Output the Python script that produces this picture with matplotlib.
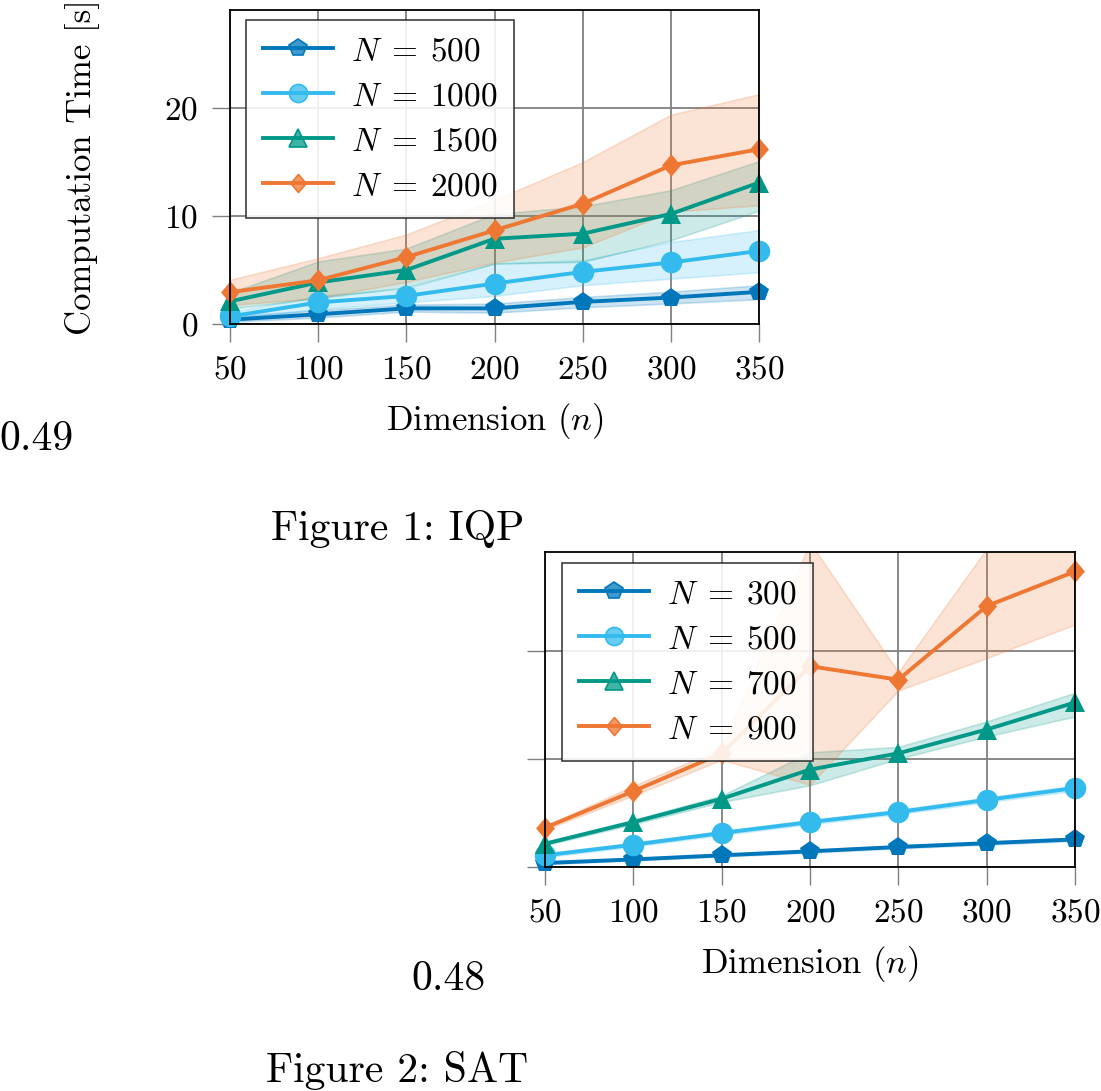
import matplotlib
matplotlib.use("Agg")
import matplotlib.pyplot as plt
from matplotlib.colors import to_rgba

plt.rcParams['font.family'] = ['cmr10', 'DejaVu Serif']
plt.rcParams['mathtext.fontset'] = 'cm'
plt.rcParams['axes.formatter.use_mathtext'] = True

# --- данные: IQP ---
dims = [50, 100, 150, 200, 250, 300, 350]
iqp_labels = [r'$N\;=\:500$', r'$N\;=\:1000$', r'$N\;=\:1500$', r'$N\;=\:2000$']
iqp_mean = [
    [0.4, 0.9, 1.45, 1.45, 2.05, 2.45, 2.98],
    [0.7, 2.0, 2.6, 3.75, 4.83, 5.7, 6.77],
    [2.1, 3.85, 5.0, 7.9, 8.37, 10.2, 13.1],
    [2.95, 4.05, 6.2, 8.68, 11.14, 14.7, 16.2],
]
iqp_low = [
    [0.2, 0.6, 1.15, 1.05, 1.55, 1.9, 2.3],
    [0.4, 1.4, 2.0, 2.6, 3.6, 4.2, 4.8],
    [1.4, 2.4, 3.4, 5.6, 5.75, 7.75, 10.5],
    [1.75, 2.4, 3.9, 5.7, 7.1, 10.4, 11.0],
]
iqp_high = [
    [0.7, 1.3, 1.8, 1.9, 2.5, 3.0, 3.6],
    [1.1, 2.6, 3.3, 5.6, 5.9, 7.6, 8.7],
    [2.9, 5.8, 7.0, 10.2, 10.9, 12.4, 15.1],
    [4.1, 6.1, 8.3, 11.5, 15.0, 19.4, 21.3],
]

# --- данные: SAT ---
sat_labels = [r'$N\;=\:300$', r'$N\;=\:500$', r'$N\;=\:700$', r'$N\;=\:900$']
sat_mean = [
    [0.37, 0.7, 1.08, 1.45, 1.85, 2.2, 2.55],
    [1.08, 2.06, 3.14, 4.15, 5.08, 6.2, 7.3],
    [2.15, 4.15, 6.3, 9.0, 10.5, 12.7, 15.2],
    [3.63, 7.0, 10.5, 18.55, 17.3, 24.1, 27.3],
]
sat_low = [
    [0.27, 0.6, 0.97, 1.33, 1.72, 2.07, 2.4],
    [0.9, 1.88, 2.95, 3.95, 4.88, 5.98, 7.05],
    [2.0, 3.95, 6.0, 7.55, 10.0, 12.05, 13.9],
    [3.45, 6.6, 9.9, 7.6, 16.3, 19.3, 22.4],
]
sat_high = [
    [0.47, 0.8, 1.2, 1.57, 1.98, 2.33, 2.7],
    [1.25, 2.24, 3.33, 4.35, 5.3, 6.42, 7.55],
    [2.3, 4.35, 6.6, 10.6, 11.1, 13.45, 16.1],
    [3.8, 7.5, 11.0, 30.0, 18.0, 29.4, 33.0],
]

colors = ['#0077BB', '#33BBEE', '#009988', '#EE7733']
diamond = [(0, 1), (0.85, 0), (0, -1), (-0.85, 0), (0, 1)]
markers = ['p', 'o', '^', diamond]
msizes = [15, 15.5, 15, 16]

FS = 24
LFS = 25
GRID = '#808080'

fig = plt.figure(figsize=(11.01, 10.91), dpi=100)
ax1 = fig.add_axes([230 / 1101, 1 - 324 / 1091, 529 / 1101, 314 / 1091])
ax2 = fig.add_axes([545 / 1101, 1 - 867 / 1091, 530 / 1101, 315 / 1091])


def draw(ax, mean, low, high, labels, legend_anchor):
    for i in range(4):
        ax.fill_between(dims, low[i], high[i], color=colors[i], alpha=0.2,
                        linewidth=1.2, zorder=1)
    for i in range(4):
        ax.plot(dims, mean[i], color=colors[i], lw=2.8, marker=markers[i],
                ms=msizes[i], mew=0, label=labels[i], zorder=3, clip_on=False)
    ax.set_xlim(50, 350)
    ax.set_ylim(0, 29.1)
    ax.set_xticks(dims)
    ax.set_yticks([0, 10, 20])
    ax.grid(True, color=GRID, lw=1.3, zorder=0)
    ax.set_axisbelow(True)
    ax.tick_params(direction='out', length=13, width=1.0, color=GRID,
                   labelsize=FS, pad=10)
    for s in ax.spines.values():
        s.set_linewidth(1.3)
        s.set_color('black')
        s.set_zorder(4)
    ax.set_xlabel('Dimension ($n$)', fontsize=LFS)
    ax.xaxis.set_label_coords(0.5, -0.245)
    leg = ax.legend(loc='upper left', bbox_to_anchor=legend_anchor,
                    borderaxespad=0, fontsize=FS, handlelength=2.1,
                    handletextpad=0.55, labelspacing=0.47, borderpad=0.5,
                    fancybox=False, framealpha=0.88, edgecolor='#222222')
    leg.get_frame().set_linewidth(1.2)
    leg.set_zorder(5)
    for h, c in zip(leg.legend_handles, colors):
        h.set_markerfacecolor(to_rgba(c, 0.75))
        h.set_markeredgecolor(c)
        h.set_markeredgewidth(1.2)
        h.set_markersize(13)


draw(ax1, iqp_mean, iqp_low, iqp_high, iqp_labels, (0.031, 0.968))
ax1.set_ylabel('Computation Time [s]', fontsize=LFS)
ax1.yaxis.set_label_coords(-0.246, 0.5)

draw(ax2, sat_mean, sat_low, sat_high, sat_labels, (0.032, 0.965))
ax2.set_yticklabels([])

fig.text(36 / 1101, 1 - 450 / 1091, '0.49', ha='center', va='baseline', fontsize=30)
fig.text(398 / 1101, 1 - 540 / 1091, 'Figure 1: IQP', ha='center', va='baseline', fontsize=30)
fig.text(448 / 1101, 1 - 990 / 1091, '0.48', ha='center', va='baseline', fontsize=30)
fig.text(397 / 1101, 1 - 1082 / 1091, 'Figure 2: SAT', ha='center', va='baseline', fontsize=30)

fig.savefig('out.png', dpi=100)
